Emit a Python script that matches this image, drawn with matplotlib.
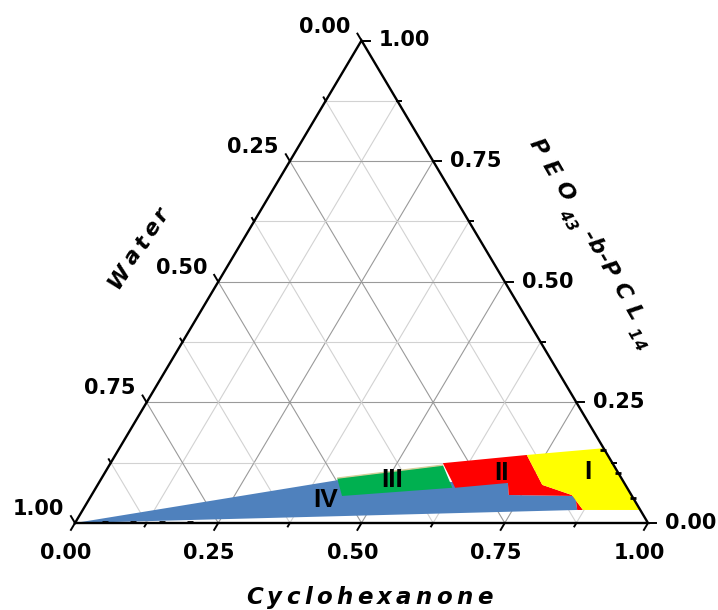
import matplotlib
matplotlib.use("Agg")
import matplotlib.pyplot as plt
import numpy as np
from matplotlib.textpath import TextToPath
from matplotlib.font_manager import FontProperties

plt.rcParams['font.family'] = ['DejaVu Sans']

# Phase regions as (cyclohexanone, PEO43-b-PCL14) mass fractions; water = 1 - c - p
blue_c = [0.000, 0.415, 0.714, 0.728, 0.845, 0.863]
blue_p = [0.000, 0.089, 0.083, 0.058, 0.056, 0.027]

green_c = [0.411, 0.582, 0.622, 0.438]
green_p = [0.093, 0.120, 0.073, 0.056]

red_c = [0.580, 0.718, 0.776, 0.838, 0.873, 0.863, 0.845, 0.728, 0.714, 0.627]
red_p = [0.124, 0.141, 0.079, 0.058, 0.027, 0.027, 0.056, 0.058, 0.083, 0.073]

yellow_c = [0.718, 0.845, 0.973, 0.873, 0.838, 0.776]
yellow_p = [0.141, 0.155, 0.027, 0.027, 0.058, 0.079]

region_names = ["I", "II", "III", "IV"]
region_c = [0.842, 0.693, 0.509, 0.414]
region_p = [0.106, 0.104, 0.089, 0.048]

# measured compositions lying on the edges
point_c = [0.05, 0.10, 0.15, 0.20, 0.845, 0.896, 0.948]
point_p = [0.003, 0.003, 0.003, 0.003, 0.152, 0.104, 0.052]

tick_values = [0.0, 0.25, 0.5, 0.75, 1.0]
tick_labels = ["0.00", "0.25", "0.50", "0.75", "1.00"]


def to_xy(c, p):
    c = np.asarray(c, dtype=float)
    p = np.asarray(p, dtype=float)
    return c + p / 2.0, p


W, H = 718, 610
DPI = 100
fig = plt.figure(figsize=(W / DPI, H / DPI), dpi=DPI)
ax = fig.add_axes([75 / W, (H - 523) / H, 573 / W, 482.5 / H])
ax.set_xlim(0, 1)
ax.set_ylim(0, 1)
ax.axis('off')

# grid lines every 0.125, darker at multiples of 0.25
for k in range(1, 8):
    v = k / 8
    col = '#9a9a9a' if k % 2 == 0 else '#d2d2d2'
    kw = dict(color=col, lw=0.8, zorder=1)
    x, y = to_xy([0, 1 - v], [v, v])          # constant PEO
    ax.plot(x, y, **kw)
    x, y = to_xy([v, v], [0, 1 - v])          # constant cyclohexanone
    ax.plot(x, y, **kw)
    x, y = to_xy([1 - v, 0], [0, 1 - v])      # constant water
    ax.plot(x, y, **kw)

# phase regions
for cs, ps, col in [(blue_c, blue_p, '#4F81BD'),
                    (green_c, green_p, '#00B050'),
                    (red_c, red_p, '#FF0000'),
                    (yellow_c, yellow_p, '#FFFF00')]:
    x, y = to_xy(cs, ps)
    ax.fill(x, y, color=col, lw=0, zorder=2)

# thin tan rim along the top of region III
x, y = to_xy(green_c[:2], green_p[:2])
ax.plot(x, y, color='#d6cf9a', lw=1.0, zorder=2.5, solid_capstyle='butt')

# triangle frame
x, y = to_xy([0, 1, 0, 0], [0, 0, 1, 0])
ax.plot(x, y, color='black', lw=1.7, zorder=4, clip_on=False, solid_joinstyle='miter')

# edge data points
x, y = to_xy(point_c, point_p)
ax.plot(x, y, ls='none', marker='_', ms=5, mew=2, color='black', zorder=4.5, clip_on=False)

# ticks (pixel-sized, drawn in data units)
tmaj, tmin = 8 / 561, 4 / 561
hmaj, hmin = 8 / 573, 4 / 573
tk = dict(color='black', lw=1.4, zorder=4, clip_on=False)
for k in range(0, 9):
    v = k / 8
    major = (k % 2 == 0)
    t = tmaj if major else tmin
    h = hmaj if major else hmin
    x0, y0 = to_xy(v, 0)                       # bottom: outward down-left
    ax.plot([x0, x0 - 0.5 * t], [y0, y0 - t], **tk)
    x0, y0 = to_xy(1 - v, v)                   # right: outward right
    ax.plot([x0, x0 + h], [y0, y0], **tk)
    x0, y0 = to_xy(0, 1 - v)                   # left: outward up-left
    ax.plot([x0, x0 - 0.5 * t], [y0, y0 + t], **tk)

lab = dict(fontsize=15, fontweight='bold', textcoords='offset pixels',
           annotation_clip=False, zorder=5)
for v, s in zip(tick_values, tick_labels):
    x0, y0 = to_xy(v, 0)
    ax.annotate(s, (x0 - 0.5 * tmaj, y0 - tmaj), xytext=(-5, -23),
                ha='center', va='center', **lab)
    x0, y0 = to_xy(1 - v, v)
    ax.annotate(s, (x0 + hmaj, y0), xytext=(9, 0),
                ha='left', va='center', **lab)
    x0, y0 = to_xy(0, 1 - v)
    ax.annotate(s, (x0 - 0.5 * tmaj, y0 + tmaj), xytext=(-7, 7),
                ha='right', va='center', **lab)

# region labels
for name, c, p in zip(region_names, region_c, region_p):
    x, y = to_xy(c, p)
    ax.text(x, y, name, ha='center', va='center', fontsize=19,
            fontweight='bold', family='Liberation Sans', zorder=6)

# letter-spaced axis titles
ttp = TextToPath()


def spaced_text(x_img, y_img, pieces, angle):
    """Draw pieces (text, size, baseline drop px, gap after px) from a start point."""
    a = np.deg2rad(angle)
    along = np.array([np.cos(a), np.sin(a)])
    up = np.array([-np.sin(a), np.cos(a)])
    pos = np.array([x_img, H - y_img], dtype=float)
    for ch, size, drop, gap in pieces:
        prop = FontProperties(family='DejaVu Sans', weight='bold', style='italic', size=size)
        w_pt, _, _ = ttp.get_text_width_height_descent(ch, prop, ismath=False)
        p = pos - up * drop
        fig.text(p[0] / W, p[1] / H, ch, fontproperties=prop, rotation=angle,
                 rotation_mode='anchor', ha='left', va='baseline')
        pos = pos + along * (w_pt * DPI / 72 + gap)


def spread(word, size, gap, drop=0.0, tail=None):
    items = [(ch, size, drop, gap) for ch in word]
    if tail is not None:
        items[-1] = (word[-1], size, drop, tail)
    return items


spaced_text(246, 604, spread("Cyclohexanone", 16.5, 4.3), 0)
spaced_text(118, 290, spread("Water", 16, 4.0), 56)
peo = (spread("PEO", 16, 9.0, tail=7.0)
       + spread("43", 11, 0.5, drop=10, tail=8.0)
       + spread("-b-", 16, 0.5, tail=0.5)
       + spread("PCL", 16, 9.0, tail=7.0)
       + spread("14", 11, 0.5, drop=10, tail=0))
spaced_text(529, 143, peo, -60)

fig.savefig("out.png", dpi=DPI)
